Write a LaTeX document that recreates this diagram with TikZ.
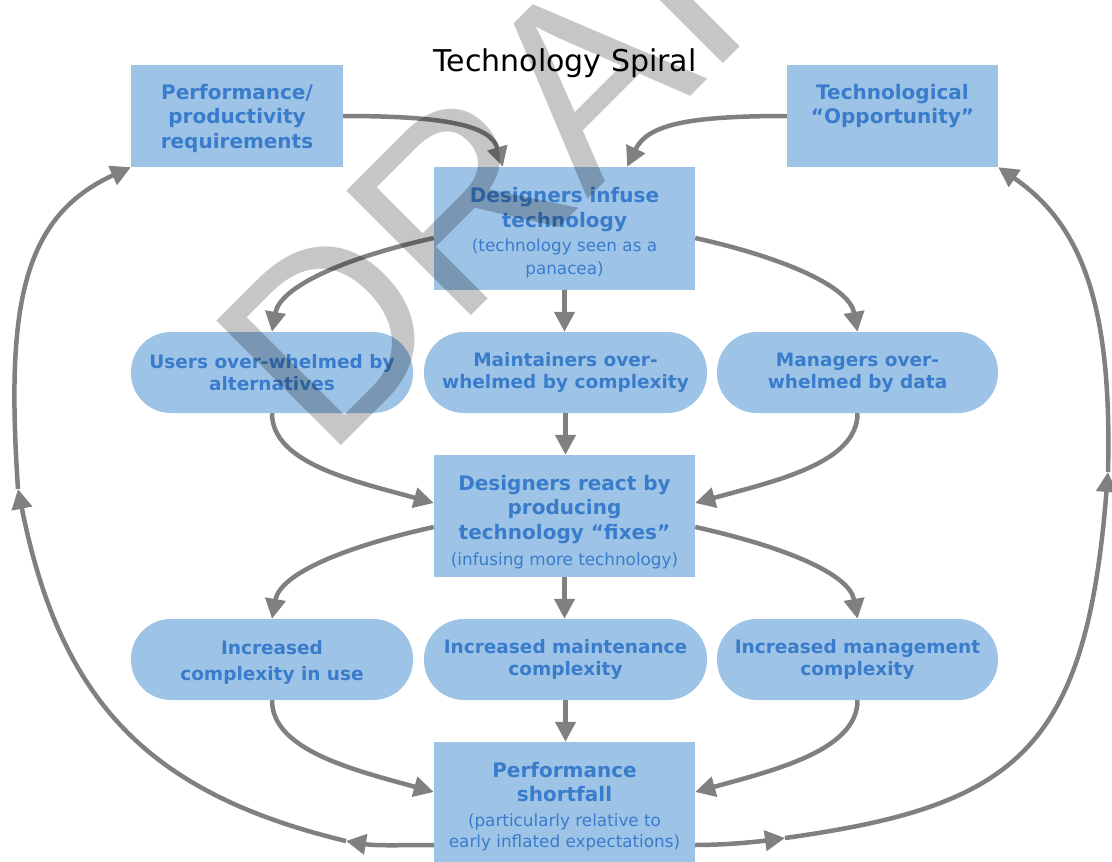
\documentclass[tikz,border=0pt]{standalone}
\usepackage{fontspec}
\setmainfont{DejaVu Sans}
\newfontfamily\wmfont{Liberation Sans}
\usetikzlibrary{arrows.meta}
\definecolor{boxfill}{RGB}{157,195,230}
\definecolor{txtblue}{RGB}{58,124,204}
\definecolor{arrgray}{RGB}{128,128,128}
\definecolor{wmgray}{RGB}{198,198,198}
\newcommand\RegLine{\fontsize{16.8}{20}\selectfont\mdseries}
\newcommand\TopPad[1]{\rule{0pt}{#1}}
\begin{document}
\begin{tikzpicture}[x=1pt,y=-1pt,
  box/.style={rectangle, fill=boxfill, text=txtblue, align=center, inner sep=0pt,
    font=\fontsize{20}{24.5}\selectfont\bfseries},
  pill/.style={rectangle, rounded corners=40pt, fill=boxfill, text=txtblue, align=center,
    inner sep=0pt, minimum height=81pt, font=\fontsize{18.5}{22}\selectfont\bfseries},
  arr/.style={draw=arrgray, line width=4.5pt, -{Triangle[length=20pt,width=20pt]}},
  wm/.style={anchor=base west, rotate=45, inner sep=0pt, text=wmgray,
    font=\wmfont\fontsize{256}{256}\selectfont}]
\useasboundingbox (0,0) rectangle (1112,862);
\fill[white] (0,0) rectangle (1112,862);

\node[anchor=base, font=\fontsize{30}{36}\selectfont] (title) at (565,71) {Technology Spiral};

\node[box, minimum width=212pt, minimum height=102pt] (pp) at (237,116)
  {\TopPad{20pt}Performance/\\productivity\\requirements};
\node[box, minimum width=211pt, minimum height=102pt] (to) at (892.5,116)
  {\TopPad{20pt}Technological\\“Opportunity”\\\phantom{requirements}};
\node[box, minimum width=261pt, minimum height=123pt] (di) at (564.5,228.5)
  {\TopPad{23pt}Designers infuse\\technology\\\RegLine (technology seen as a\\[-2pt]\RegLine panacea)};

\node[pill, minimum width=282pt] (users) at (272,372.5) {Users over-whelmed by\\alternatives};
\node[pill, minimum width=283pt] (maint) at (565.5,372.5) {Maintainers over-\\whelmed by complexity};
\node[pill, minimum width=281pt] (mgrs) at (857.5,372.5) {Managers over-\\whelmed by data};

\node[box, minimum width=261pt, minimum height=122pt] (dr) at (564.5,516)
  {\TopPad{27pt}Designers react by\\producing\\technology “fixes”\\[1.5pt]\RegLine (infusing more technology)};

\node[pill, minimum width=282pt] (inc1) at (272,659.5) {\TopPad{20pt}Increased\\[4pt]complexity in use};
\node[pill, minimum width=283pt] (inc2) at (565.5,659.5) {Increased maintenance\\complexity};
\node[pill, minimum width=281pt] (inc3) at (857.5,659.5) {Increased management\\complexity};

\node[box, minimum width=261pt, minimum height=123pt] (ps) at (564.5,803.5)
  {\TopPad{21pt}Performance\\shortfall\\\RegLine (particularly relative to\\[-3.5pt]\RegLine early inflated expectations)};

% connectors
\draw[arr] (pp.east) .. controls +(100,0) and +(-12,-42) .. ([xshift=69pt]di.north west);
\draw[arr] (to.west) .. controls +(-100,0) and +(20,-42) .. ([xshift=-68pt]di.north east);

\draw[arr] ([yshift=-9.5pt]di.west) .. controls +(-90,20) and +(8,-45) .. (users.north);
\draw[arr] (di.south) -- (di.south |- maint.north);
\draw[arr] ([yshift=-9.5pt]di.east) .. controls +(90,20) and +(-8,-45) .. (mgrs.north);

\draw[arr] (users.south) .. controls +(0,50) and +(-80,-22) .. ([yshift=13pt]dr.west);
\draw[arr] (maint.south) -- (maint.south |- dr.north);
\draw[arr] (mgrs.south) .. controls +(0,50) and +(80,-22) .. ([yshift=13pt]dr.east);

\draw[arr] ([yshift=-11pt]dr.west) .. controls +(-90,20) and +(8,-45) .. (inc1.north);
\draw[arr] (dr.south) -- (dr.south |- inc2.north);
\draw[arr] ([yshift=-11pt]dr.east) .. controls +(90,20) and +(-8,-45) .. (inc3.north);

\draw[arr] (inc1.south) .. controls +(0,50) and +(-80,-22) .. ([yshift=11.5pt]ps.west);
\draw[arr] (inc2.south) -- (inc2.south |- ps.north);
\draw[arr] (inc3.south) .. controls +(0,50) and +(80,-22) .. ([yshift=11.5pt]ps.east);

% feedback loops
\coordinate (l1) at (346,841);
\coordinate (l2) at (18,489);
\coordinate (r1) at (785,838);
\coordinate (r2) at (1108,472);
\draw[arr] ([yshift=-41.5pt]ps.west) .. controls +(-30,0) and +(30,5) .. (l1);
\draw[arr] (l1) .. controls +(-200,-48) and +(42,210) .. (l2);
\draw[arr] (l2) .. controls +(-12,-180) and +(-110,50) .. (pp.south west);

\draw[arr] ([yshift=-41.5pt]ps.east) .. controls +(30,0) and +(-30,4) .. (r1);
\draw[arr] (r1) .. controls +(230,-32) and +(-22,280) .. (r2);
\draw[arr] (r2) .. controls +(4,-162) and +(86,59) .. (to.south east);

% watermark
\begin{scope}[blend mode=multiply]
\node[wm] (draft) at (326,461) {DRAFT};
\end{scope}
\end{tikzpicture}
\end{document}
